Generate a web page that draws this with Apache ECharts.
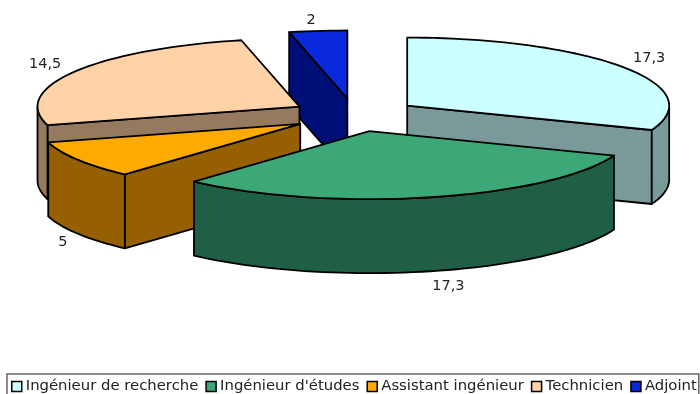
<!DOCTYPE html>
<html>
<head>
<meta charset="utf-8">
<style>html,body{margin:0;padding:0;background:#fff;overflow:hidden}#c{width:700px;height:394px}</style>
<script src="https://cdn.jsdelivr.net/npm/echarts@6/dist/echarts.min.js"></script>
</head>
<body>
<div id="c"></div>
<script>
var categories = ["Ingénieur de recherche", "Ingénieur d'études", "Assistant ingénieur", "Technicien", "Adjoint"];
var values = [17.3, 17.3, 5, 14.5, 2];
var valueLabels = ["17,3", "17,3", "5", "14,5", "2"];
var topColors = ["#CCFFFF", "#3CA878", "#FFAA00", "#FFD2A8", "#0A28DC"];
var wallColors = ["#7A9999", "#1E5F45", "#966000", "#967A60", "#000E78"];
var paintOrder = [2, 5, 4, 3, 1];
var labelOffsets = [[26, -9], [18, 15], [-15, 9], [-29, -8], [-7, -11]];

var cx = 354.5, cy = 115, rx = 262, ry = 68, depth = 74, explode = 0.244;
var total = values.reduce(function (a, b) { return a + b; }, 0);
var RAD = Math.PI / 180;
var chart = echarts.init(document.getElementById('c'));

function pt(ax, ay, deg) {
  return [ax + Math.sin(deg * RAD) * rx, ay - Math.cos(deg * RAD) * ry];
}
function arc(ax, ay, a0, a1) {
  var n = Math.max(2, Math.ceil(Math.abs(a1 - a0) / 2)), out = [];
  for (var i = 0; i <= n; i++) out.push(pt(ax, ay, a0 + (a1 - a0) * i / n));
  return out;
}
function down(points) {
  return points.map(function (p) { return [p[0], p[1] + depth]; }).reverse();
}
var lineW = 1.8;
function poly(points, fill) {
  return { type: 'polygon', shape: { points: points },
    style: { fill: fill, stroke: '#000', lineWidth: lineW, lineJoin: 'round' } };
}

function makeRender(idx) {
  return function (params, api) {
    var before = 0;
    for (var i = 0; i < idx; i++) before += values[i];
    var v = api.value(0);
    var a0 = before / total * 360, a1 = (before + v) / total * 360, mid = (a0 + a1) / 2;
    var ax = cx + Math.sin(mid * RAD) * rx * explode;
    var ay = cy - Math.cos(mid * RAD) * ry * explode;
    var wall = wallColors[idx], kids = [];
    // radial cut faces that look toward the viewer
    if (Math.cos((a0 - 90) * RAD) < -0.001) {
      var e0 = pt(ax, ay, a0);
      kids.push(poly([[ax, ay], e0, [e0[0], e0[1] + depth], [ax, ay + depth]], wall));
    }
    if (Math.cos((a1 + 90) * RAD) < -0.001) {
      var e1 = pt(ax, ay, a1);
      kids.push(poly([[ax, ay], e1, [e1[0], e1[1] + depth], [ax, ay + depth]], wall));
    }
    // outer rim, front half only
    var w0 = Math.max(a0, 90), w1 = Math.min(a1, 270);
    if (w1 > w0) {
      var rim = arc(ax, ay, w0, w1);
      kids.push(poly(rim.concat(down(rim)), wall));
    }
    // top face
    kids.push(poly([[ax, ay]].concat(arc(ax, ay, a0, a1)), topColors[idx]));
    // value label
    var lp = pt(ax, ay, mid);
    var front = Math.cos(mid * RAD) < 0;
    kids.push({ type: 'text', style: {
      x: lp[0] + labelOffsets[idx][0],
      y: lp[1] + (front ? depth : 0) + labelOffsets[idx][1],
      text: valueLabels[idx], fill: '#222', align: 'center', verticalAlign: 'middle',
      font: '14.5px "DejaVu Sans"' } });
    return { type: 'group', children: kids };
  };
}

chart.setOption({
  animation: false,
  backgroundColor: '#fff',
  legend: {
    data: categories,
    left: 7, top: 374,
    padding: [5, 2, 8, 4],
    itemGap: 7, itemWidth: 10, itemHeight: 10,
    icon: 'rect',
    borderColor: '#666', borderWidth: 1.5,
    itemStyle: { borderColor: '#000', borderWidth: 1.5 },
    textStyle: { fontFamily: 'DejaVu Sans', fontSize: 14.85, color: '#222', padding: [0, 0, 0, -1] }
  },
  series: categories.map(function (name, i) {
    return {
      type: 'custom', name: name, coordinateSystem: 'none', z: paintOrder[i],
      itemStyle: { color: topColors[i] },
      renderItem: makeRender(i), data: [[values[i]]], silent: true
    };
  })
});
</script>
</body>
</html>
